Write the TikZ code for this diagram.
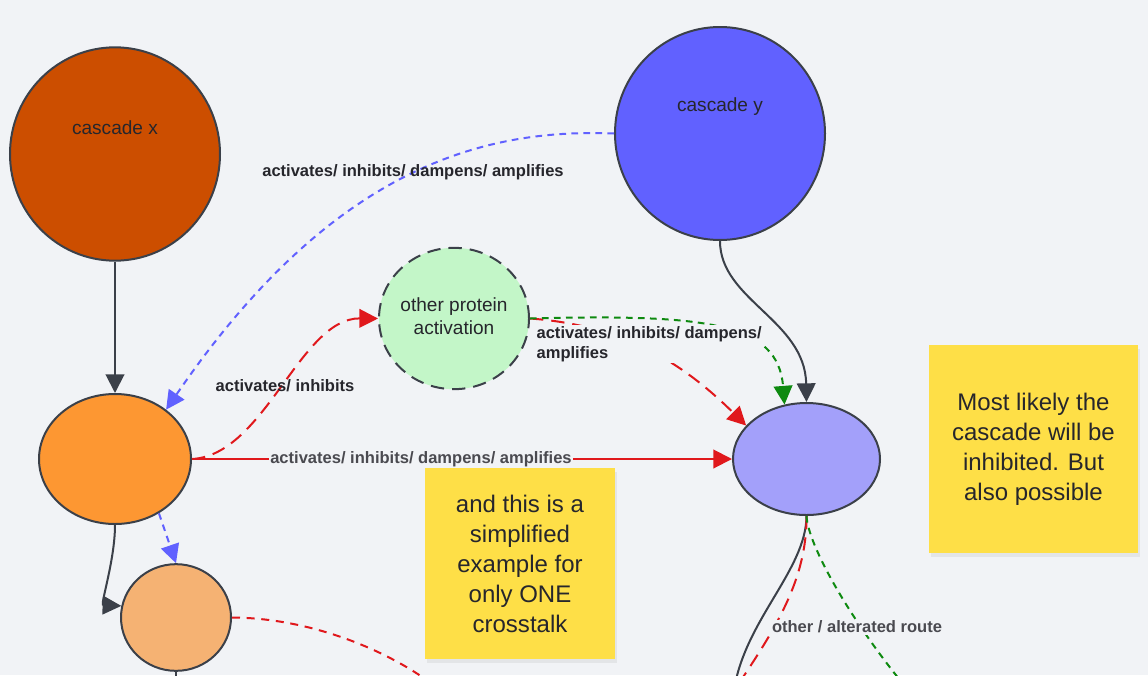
\documentclass[tikz,border=0pt]{standalone}
\usepackage{fontspec}
\setmainfont{Liberation Sans}
\usetikzlibrary{shapes.geometric,arrows.meta,shadows}
\definecolor{bg}{HTML}{F1F3F6}
\definecolor{edge}{HTML}{3B4049}
\definecolor{cx}{HTML}{CC4E00}
\definecolor{cy}{HTML}{6161FF}
\definecolor{opg}{HTML}{C3F6C8}
\definecolor{org}{HTML}{FD9732}
\definecolor{lorg}{HTML}{F5B273}
\definecolor{pur}{HTML}{A3A0FA}
\definecolor{sticky}{HTML}{FEDF47}
\definecolor{myred}{HTML}{E0181C}
\definecolor{mygreen}{HTML}{0E8A10}
\definecolor{txt}{HTML}{26262C}
\definecolor{graytxt}{HTML}{4A4A50}
\tikzset{
  tip/.style={-{Triangle[length=14pt,width=14pt]}},
  blob/.style={ellipse, draw=edge, line width=1.5pt, inner sep=0pt},
  stickynote/.style={rectangle, fill=sticky, inner sep=0pt, align=center,
    font=\fontsize{18}{22.5}\selectfont, text=txt,
    drop shadow={opacity=0.12, shadow xshift=1.5pt, shadow yshift=-3pt}},
  lbl/.style={font=\bfseries\fontsize{12.4}{15}\selectfont, text=txt, inner sep=1pt},
  graylbl/.style={font=\bfseries\fontsize{12.4}{15}\selectfont, text=graytxt, inner sep=1pt, fill=bg},
  nodetext/.style={font=\fontsize{14.3}{17.3}\selectfont, text=txt, align=center},
  darkarrow/.style={draw=edge, line width=1.5pt, tip},
  darkline/.style={draw=edge, line width=1.5pt},
  bluedash/.style={draw=cy, line width=1.5pt, dash pattern=on 5pt off 4pt, tip},
  redlong/.style={draw=myred, line width=1.5pt, dash pattern=on 10pt off 6pt, tip},
  redshort/.style={draw=myred, line width=1.5pt, dash pattern=on 6pt off 5pt},
  greendash/.style={draw=mygreen, line width=1.5pt, dash pattern=on 5pt off 4pt},
  redsolid/.style={draw=myred, line width=1.5pt, tip},
}
\begin{document}
\begin{tikzpicture}[x=0.75pt,y=-0.75pt]
\useasboundingbox (0,0) rectangle (1148,675);
\fill[bg] (0,0) rectangle (1148,675);
\begin{scope}
\clip (0,0) rectangle (1148,675);

% nodes
\node[blob, fill=cx, minimum width=157.5pt, minimum height=160pt] (cxn) at (115,154) {};
\node[nodetext] (cxt) at (115,128) {cascade x};
\node[blob, fill=cy, minimum width=157.5pt, minimum height=159.75pt] (cyn) at (720,133.5) {};
\node[nodetext] (cyt) at (720,107) {cascade y};
\node[blob, fill=opg, dash pattern=on 10pt off 6pt, minimum width=112.5pt, minimum height=106pt] (op) at (454,318.5) {};
\node[nodetext] (opt) at (454,316) {other protein\\activation};
\node[blob, fill=org, minimum width=114pt, minimum height=97.5pt] (oe) at (115,459) {};
\node[blob, fill=lorg, minimum width=82.5pt, minimum height=80pt] (lo) at (176,617.5) {};
\node[blob, fill=pur, minimum width=110.25pt, minimum height=84pt] (pe) at (806.5,459) {};

\coordinate (loend) at (176,690);
\coordinate (redend) at (440,690);
\coordinate (pdark) at (734,690);
\coordinate (pred) at (733,692);
\coordinate (pgreen) at (908,690);

% connectors
\draw[darkarrow] (cxn.south) -- (oe.north);
\draw[bluedash] (cyn.west) .. controls (480,128) and (330,170) .. (oe.44);
\draw[redlong] (oe.east) .. controls (265,455) and (300,318) .. (op.west);
\draw[redsolid] (oe.east) -- node[graylbl, pos=0.424] (midlbl) {activates/ inhibits/ dampens/ amplifies} (pe.west);
\draw[redlong] (op.east) .. controls (620,325) and (680,360) .. (pe.151);
\draw[greendash, tip] (op.east) .. controls (705,314) and (778,322) .. (pe.112);
\draw[darkarrow] (cyn.south) .. controls (720,300) and (805,320) .. (pe.north);
\draw[darkarrow] (oe.south) .. controls (115,560) and (100,605) .. (lo.168);
\draw[bluedash] (oe.-51) -- (lo.north);
\draw[redshort] (lo.east) .. controls (310,618) and (390,650) .. (redend);
\draw[darkline] (lo.south) -- (loend);
\draw[darkline] (pe.south) .. controls (806,570) and (745,620) .. (pdark);
\draw[redlong, -] (pe.south) .. controls (807,580) and (775,630) .. (pred);
\draw[greendash] (pe.south) .. controls (808,545) and (850,620) .. (pgreen);

% labels
\node[lbl] (l1) at (413,172) {activates/ inhibits/ dampens/ amplifies};
\node[lbl] (l2) at (285,386) {activates/ inhibits};
\node[lbl, fill=bg, anchor=west, align=left] (l4) at (535,344) {activates/ inhibits/ dampens/\\amplifies};
\node[graylbl] (l5) at (857,627) {other / alterated route};

% sticky notes
\node[stickynote, minimum width=142.5pt, minimum height=143.25pt] (s1) at (520,563.5) {and this is a\\simplified\\example for\\only ONE\\crosstalk};
\node[stickynote, minimum width=156.75pt, minimum height=156pt] (s2) at (1033.5,449) {Most likely the\\cascade will be\\inhibited. But\\also possible};
\end{scope}
\end{tikzpicture}
\end{document}
